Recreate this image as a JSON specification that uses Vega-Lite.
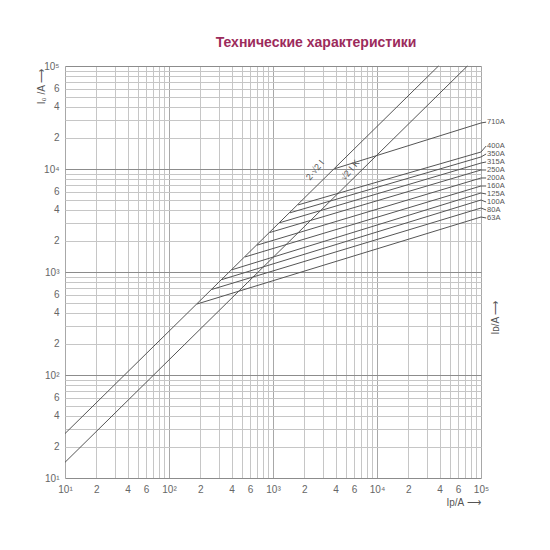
{
  "$schema": "https://vega.github.io/schema/vega-lite/v6.json",
  "autosize": {"type": "none"},
  "width": 416,
  "height": 412,
  "padding": {"left": 65, "top": 66, "right": 69, "bottom": 72},
  "background": "white",
  "title": {"text": "Технические характеристики", "anchor": "middle", "frame": "group", "dx": 43, "offset": 11, "font": "Liberation Sans", "fontSize": 14, "fontWeight": "bold", "color": "#9c2b5c"},
  "config": {"view": {"stroke": null}},
  "datasets": {
    "lines": [
      {"s": "2√2", "x": 10, "y": 27}, {"s": "2√2", "x": 39000, "y": 100000},
      {"s": "√2", "x": 10, "y": 14.2}, {"s": "√2", "x": 74000, "y": 100000},
      {"s": "63A", "x": 186, "y": 489}, {"s": "63A", "x": 100000, "y": 3420}, {"s": "63A", "x": 112000, "y": 3345, "lab": true},
      {"s": "80A", "x": 259, "y": 678}, {"s": "80A", "x": 100000, "y": 4180}, {"s": "80A", "x": 112000, "y": 4000, "lab": true},
      {"s": "100A", "x": 323, "y": 844}, {"s": "100A", "x": 100000, "y": 5000}, {"s": "100A", "x": 112000, "y": 4783, "lab": true},
      {"s": "125A", "x": 403, "y": 1051}, {"s": "125A", "x": 100000, "y": 5850}, {"s": "125A", "x": 112000, "y": 5720, "lab": true},
      {"s": "160A", "x": 538, "y": 1400}, {"s": "160A", "x": 100000, "y": 6840}, {"s": "160A", "x": 112000, "y": 6840, "lab": true},
      {"s": "200A", "x": 702, "y": 1822}, {"s": "200A", "x": 100000, "y": 8180}, {"s": "200A", "x": 112000, "y": 8180, "lab": true},
      {"s": "250A", "x": 935, "y": 2420}, {"s": "250A", "x": 100000, "y": 9780}, {"s": "250A", "x": 112000, "y": 9780, "lab": true},
      {"s": "315A", "x": 1167, "y": 3015}, {"s": "315A", "x": 100000, "y": 11430}, {"s": "315A", "x": 112000, "y": 11700, "lab": true},
      {"s": "350A", "x": 1457, "y": 3757}, {"s": "350A", "x": 100000, "y": 13090}, {"s": "350A", "x": 112000, "y": 13990, "lab": true},
      {"s": "400A", "x": 1739, "y": 4477}, {"s": "400A", "x": 100000, "y": 14620}, {"s": "400A", "x": 112000, "y": 16710, "lab": true},
      {"s": "710A", "x": 3950, "y": 10090}, {"s": "710A", "x": 100000, "y": 27980}, {"s": "710A", "x": 112000, "y": 28500, "lab": true}
    ],
    "diag": [
      {"t": "2·√2 I", "x": 2535, "y": 9770},
      {"t": "√2 I K", "x": 5495, "y": 9770}
    ]
  },
  "resolve": {"axis": {"x": "independent", "y": "independent"}},
  "layer": [
    {
      "data": {"name": "lines"},
      "mark": {"type": "line", "color": "#555555", "strokeWidth": 1},
      "encoding": {
        "detail": {"field": "s", "type": "nominal"},
        "x": {
          "field": "x", "type": "quantitative",
          "scale": {"type": "log", "domain": [10, 100000], "nice": false},
          "axis": {
            "values": [10,20,30,40,50,60,70,80,90,100,200,300,400,500,600,700,800,900,1000,2000,3000,4000,5000,6000,7000,8000,9000,10000,20000,30000,40000,50000,60000,70000,80000,90000,100000],
            "labelExpr": "datum.value==10?'10¹':datum.value==100?'10²':datum.value==1000?'10³':datum.value==10000?'10⁴':datum.value==100000?'10⁵':indexof([20,40,60,200,400,600,2000,4000,6000,20000,40000,60000],datum.value)>=0?slice(format(datum.value,'d'),0,1):''",
            "labelOverlap": false, "labelFlush": false, "ticks": false, "domain": false,
            "gridColor": {"condition": {"test": "indexof([10,100,1000,10000,100000], datum.value) >= 0", "value": "#a8a8a8"}, "value": "#c6c6c6"},
            "gridWidth": 1,
            "labelFont": "Liberation Sans", "labelFontSize": 10, "labelColor": "#666666", "labelPadding": 6,
            "title": "Ip/A ⟶", "titleX": 398, "titleY": 24, "titleAngle": 0, "titleAlign": "center", "titleBaseline": "middle",
            "titleFont": "Liberation Sans", "titleFontSize": 10, "titleFontWeight": "normal", "titleColor": "#555555"
          }
        },
        "y": {
          "field": "y", "type": "quantitative",
          "scale": {"type": "log", "domain": [10, 100000], "nice": false},
          "axis": {
            "values": [10,20,30,40,50,60,70,80,90,100,200,300,400,500,600,700,800,900,1000,2000,3000,4000,5000,6000,7000,8000,9000,10000,20000,30000,40000,50000,60000,70000,80000,90000,100000],
            "labelExpr": "datum.value==10?'10¹':datum.value==100?'10²':datum.value==1000?'10³':datum.value==10000?'10⁴':datum.value==100000?'10⁵':indexof([20,40,60,200,400,600,2000,4000,6000,20000,40000,60000],datum.value)>=0?slice(format(datum.value,'d'),0,1):''",
            "labelOverlap": false, "labelFlush": false, "ticks": false, "domain": false,
            "gridColor": {"condition": {"test": "indexof([10,100,1000,10000,100000], datum.value) >= 0", "value": "#8c8c8c"}, "value": "#c6c6c6"},
            "gridWidth": 1,
            "labelFont": "Liberation Sans", "labelFontSize": 10, "labelColor": "#666666", "labelPadding": 6,
            "title": "I₀ /A ⟶", "titleX": -24, "titleY": 20, "titleAngle": -90, "titleAlign": "center", "titleBaseline": "middle",
            "titleFont": "Liberation Sans", "titleFontSize": 10, "titleFontWeight": "normal", "titleColor": "#555555"
          }
        }
      }
    },
    {
      "data": {"name": "lines"},
      "transform": [{"filter": "datum.lab == true"}],
      "mark": {"type": "text", "align": "left", "baseline": "middle", "dx": 1, "font": "Liberation Sans", "fontSize": 7.5, "color": "#555555"},
      "encoding": {
        "text": {"field": "s", "type": "nominal"},
        "x": {"field": "x", "type": "quantitative", "scale": {"type": "log", "domain": [10, 100000], "nice": false}, "axis": null},
        "y": {
          "field": "y", "type": "quantitative", "scale": {"type": "log", "domain": [10, 100000], "nice": false},
          "axis": {
            "orient": "right", "labels": false, "ticks": false, "domain": false, "grid": false,
            "title": "Iᴅ/A ⟶", "titleX": 14, "titleY": 251, "titleAngle": -90, "titleAlign": "center", "titleBaseline": "middle",
            "titleFont": "Liberation Sans", "titleFontSize": 10, "titleFontWeight": "normal", "titleColor": "#555555"
          }
        }
      }
    },
    {
      "data": {"name": "diag"},
      "mark": {"type": "text", "angle": 310, "align": "center", "baseline": "middle", "font": "Liberation Sans", "fontSize": 9, "color": "#555555"},
      "encoding": {
        "text": {"field": "t", "type": "nominal"},
        "x": {"field": "x", "type": "quantitative", "scale": {"type": "log", "domain": [10, 100000], "nice": false}, "axis": null},
        "y": {"field": "y", "type": "quantitative", "scale": {"type": "log", "domain": [10, 100000], "nice": false}, "axis": null}
      }
    }
  ]
}
